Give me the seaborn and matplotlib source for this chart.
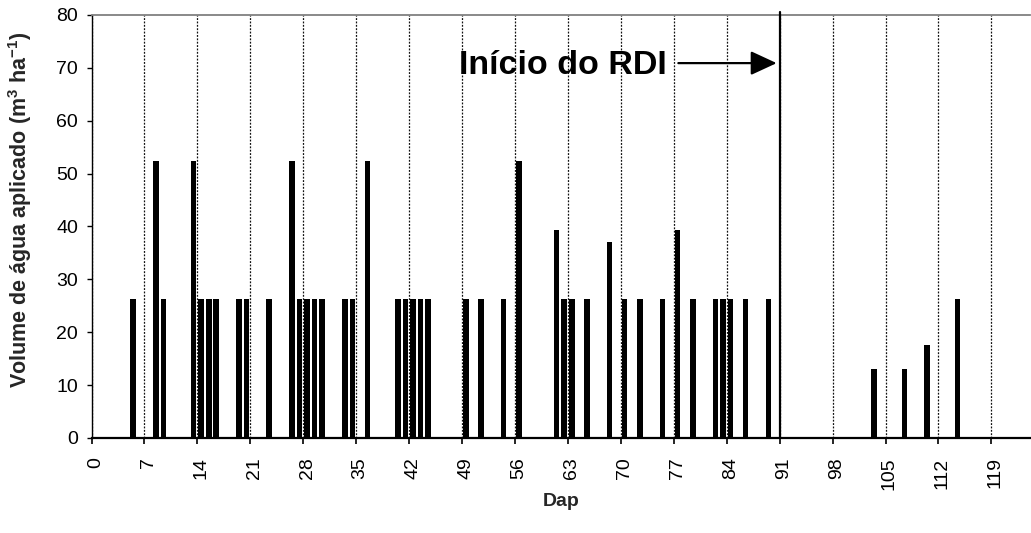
import numpy as np
import pandas as pd
import matplotlib
matplotlib.use("Agg")
import matplotlib.pyplot as plt
import seaborn as sns

# Irrigation events: day after planting (Dap) and applied water volume (m3/ha)
dias = [5, 8, 9, 13, 14, 15, 16, 19, 20, 23, 26, 27, 28, 29, 30, 33, 34, 36,
        40, 41, 42, 43, 44, 49, 51, 54, 56, 61, 62, 63, 65, 68, 70, 72, 75,
        77, 79, 82, 83, 84, 86, 89, 103, 107, 110, 114]
volumes = [26.2, 52.4, 26.2, 52.4, 26.2, 26.2, 26.2, 26.2, 26.2, 26.2, 52.4,
           26.2, 26.2, 26.2, 26.2, 26.2, 26.2, 52.4, 26.2, 26.2, 26.2, 26.2,
           26.2, 26.2, 26.2, 26.2, 52.4, 39.3, 26.2, 26.2, 26.2, 37.0, 26.2,
           26.2, 26.2, 39.3, 26.2, 26.2, 26.2, 26.2, 26.2, 26.2, 13.1, 13.1,
           17.5, 26.2]
inicio_rdi = 91
rotulos_x = list(range(0, 120, 7))
rotulos_y = list(range(0, 81, 10))
texto_rdi = "Início do RDI"

sns.set_theme(style="white")
plt.rcParams["font.family"] = ["Liberation Sans", "DejaVu Sans"]
plt.rcParams["mathtext.fontset"] = "custom"
plt.rcParams["mathtext.rm"] = "Liberation Sans:bold"
plt.rcParams["mathtext.default"] = "rm"

# each bar sits in the middle of its day slot
df = pd.DataFrame({"pos": np.array(dias) + 0.5, "vol": volumes})

fig = plt.figure(figsize=(10.31, 5.33), dpi=100)
ax = fig.add_axes([91.5 / 1031, 1 - 438 / 533, (1030 - 91.5) / 1031, (438 - 15) / 533])

sns.barplot(data=df, x="pos", y="vol", native_scale=True, color="black",
            saturation=1, width=0.75, errorbar=None, linewidth=0, ax=ax)

ax.set_xlim(0, 124.1)
ax.set_ylim(0, 80)

# ticks at the slot boundaries, labels centred in the day slot
ax.set_xticks(rotulos_x)
ax.set_xticklabels([])
ax.set_xticks([r + 0.5 for r in rotulos_x], minor=True)
ax.set_xticklabels([str(r) for r in rotulos_x], minor=True, rotation=90,
                   fontsize=14, color="black")
ax.set_yticks(rotulos_y)
ax.set_yticklabels([str(r) for r in rotulos_y], fontsize=14, color="black")

ax.tick_params(axis="x", which="major", direction="out", length=4, width=1.2,
               color="black", bottom=True)
ax.tick_params(axis="x", which="minor", length=0, pad=14, bottom=True)
ax.tick_params(axis="y", direction="out", length=3.6, width=1.0,
               color="black", left=True, pad=6)

ax.xaxis.grid(True, which="major", linestyle=(0, (1.5, 1.2)), linewidth=0.9,
              color="#111111")
ax.yaxis.grid(False)
ax.set_axisbelow(True)

for side in ["left", "bottom"]:
    ax.spines[side].set_color("black")
ax.spines["left"].set_linewidth(1.0)
ax.spines["bottom"].set_linewidth(1.6)
ax.spines["top"].set_color("#808080")
ax.spines["top"].set_linewidth(1.3)
ax.spines["right"].set_visible(False)

# start of regulated deficit irrigation
ax.axvline(inicio_rdi, color="black", linewidth=1.6, ymin=0, ymax=1.008,
           clip_on=False, zorder=3)
ax.text(48.6, 68.8, texto_rdi, fontsize=24.5, fontweight="bold", ha="left",
        va="baseline", color="black")
ax.annotate("", xy=(90.6, 70.9), xytext=(77.6, 70.9),
            arrowprops=dict(arrowstyle="-|>,head_length=0.8,head_width=0.37",
                            mutation_scale=20, color="black", lw=1.6,
                            shrinkA=0, shrinkB=0))

ax.set_xlabel("Dap", fontsize=14, fontweight="bold", labelpad=2)
ax.set_ylabel(r"Volume de água aplicado (m$^{3}$ ha$^{-1}$)", fontsize=15.5,
              fontweight="bold", labelpad=16)
ax.yaxis.label.set_y(0.54)

fig.savefig("out.png", dpi=100, facecolor="white")
